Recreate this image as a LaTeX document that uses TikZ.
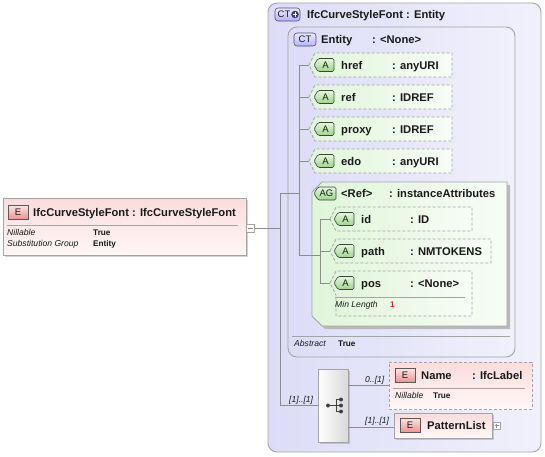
\documentclass[tikz,border=0pt]{standalone}
\usepackage{fontspec}
\setmainfont{Liberation Sans}
\usetikzlibrary{shadows}
\definecolor{ln}{HTML}{8C8C8C}
\definecolor{bd}{HTML}{A4A4A4}
\definecolor{txt}{HTML}{1A1A1A}
\definecolor{ctL}{HTML}{DCDCF7}
\definecolor{ctR}{HTML}{F1F1FC}
\definecolor{grL}{HTML}{E0F5DA}
\definecolor{grR}{HTML}{F7FDF5}
\definecolor{pkT}{HTML}{FBDCDC}
\definecolor{pkB}{HTML}{FFF7F7}
\definecolor{redv}{HTML}{E02020}
\definecolor{gbT}{HTML}{E4F7DE}
\definecolor{gbB}{HTML}{9CD68C}
\definecolor{ebT}{HTML}{FCE2E2}
\definecolor{ebB}{HTML}{EE9090}
\tikzset{
  line/.style={draw=ln, line width=0.8pt},
  ctbox/.style={draw=bd, line width=0.9pt, rounded corners=9pt, left color=ctL, right color=ctR, inner sep=0pt},
  attbox/.style={draw=bd, dash pattern=on 3pt off 2pt, line width=0.8pt, left color=grL, right color=grR},
  agbox/.style={draw=bd, line width=0.8pt, left color=grL, right color=grR},
  elbox/.style={draw=bd, line width=0.8pt, top color=pkT, bottom color=pkB, inner sep=0pt},
  eldash/.style={elbox, dash pattern=on 3pt off 2pt},
  shad/.style={drop shadow={shadow xshift=2pt, shadow yshift=-2pt, opacity=0.35, fill=gray}},
  abadge/.style={draw=black!75, line width=0.6pt, rounded corners=1.5pt, top color=gbT, bottom color=gbB},
  ebadge/.style={draw=black!65, line width=0.6pt, top color=ebT, bottom color=ebB, minimum width=20pt, minimum height=14pt, inner sep=0pt, font=\fontsize{9.5}{11}\selectfont, text=txt},
  ctbadge/.style={draw=blue!30!black!70, line width=0.6pt, rounded corners=3pt, top color=blue!8!white, bottom color=blue!30!white},
  btext/.style={inner sep=0pt, font=\fontsize{9.5}{11}\selectfont, text=txt},
  nm/.style={anchor=base west, inner sep=0pt, font=\bfseries\fontsize{11.2}{13}\selectfont, text=txt},
  sm/.style={anchor=base west, inner sep=0pt, font=\itshape\fontsize{8.6}{10}\selectfont, text=txt},
  sv/.style={anchor=base west, inner sep=0pt, font=\bfseries\fontsize{8.2}{10}\selectfont, text=txt},
  pmbox/.style={draw=bd, fill=white, line width=0.6pt, minimum size=8pt, inner sep=0pt},
}
\newcommand\attbox[5]{%
  \path[attbox] (#2,#3+12) -- (#2+6,#3) -- (#5,#3) -- (#5,#4) -- (#2+6,#4) -- (#2+6,#3+24) -- cycle;
  \coordinate (#1) at (#2,#3+12);}
\newcommand\tagbadge[5]{%
  \path[abadge] (#2-#4,#3) -- (#2-#4+4,#3-6.5) -- (#2+#4,#3-6.5) -- (#2+#4,#3+6.5) -- (#2-#4+4,#3+6.5) -- cycle;
  \node[btext] (#1) at (#2+1.5,#3) {#5};}
\begin{document}
\begin{tikzpicture}[x=1pt,y=-1pt]
\useasboundingbox (0,0) rectangle (545,456);

% ---- left element ----
\node[elbox, shad, minimum width=243pt, minimum height=57pt] (elem) at (124.5,226.5) {};
\node[ebadge] (elemE) at (18,212.5) {E};
\node[nm] (elemN) at (33,216) {IfcCurveStyleFont : IfcCurveStyleFont};
\draw[line, draw=bd] (7,225.5) -- (238,225.5);
\node[sm] (elemNil) at (7,235.5) {Nillable};
\node[sv] (elemNilV) at (93,235.5) {True};
\node[sm] (elemSub) at (7,246) {Substitution Group};
\node[sv] (elemSubV) at (93,246) {Entity};
\node[pmbox] (mb) at (250.5,228) {};
\draw[ln, line width=0.7pt] (248,228) -- (253,228);

% ---- main complex type ----
\node[ctbox, minimum width=273pt, minimum height=449pt] (ct) at (404.5,227.5) {};
\path[ctbadge] (275,8) rectangle (300,21);
\node[btext] (ctB) at (284,14.5) {CT};
\fill[blue!30!black!75] (295,14.5) circle (3.8pt);
\draw[white, line width=1pt] (292.8,14.5) -- (297.2,14.5) (295,12.3) -- (295,16.7);
\node[nm] (ctN) at (307,18.5) {IfcCurveStyleFont : Entity};

\node[ctbox, minimum width=227pt, minimum height=330pt] (ent) at (401.5,192) {};
\path[ctbadge] (294,33) rectangle (316,46);
\node[btext] (entB) at (305,39.5) {CT};
\node[nm] (entN) at (321,43.5) {Entity};
\node[nm] (entT) at (372,43.5) {: <None>};

% attributes
\attbox{hrefP}{309}{53}{77}{452}
\tagbadge{hrefB}{324}{65}{10}{A}
\node[nm] (hrefN) at (341,69) {href};
\node[nm] (hrefT) at (392,69) {: anyURI};

\attbox{refP}{309}{85}{109}{452}
\tagbadge{refB}{324}{97}{10}{A}
\node[nm] (refN) at (341,101) {ref};
\node[nm] (refT) at (392,101) {: IDREF};

\attbox{proxyP}{309}{117}{141}{452}
\tagbadge{proxyB}{324}{129}{10}{A}
\node[nm] (proxyN) at (341,133) {proxy};
\node[nm] (proxyT) at (392,133) {: IDREF};

\attbox{edoP}{309}{149}{173}{452}
\tagbadge{edoB}{324}{161}{10}{A}
\node[nm] (edoN) at (341,165) {edo};
\node[nm] (edoT) at (392,165) {: anyURI};

% attribute group
\fill[gray!55] (315,195) -- (325,185) -- (510,185) -- (510,329) -- (325,329) -- (315,319) -- cycle;
\path[agbox] (312,192) -- (322,182) -- (507,182) -- (507,326) -- (322,326) -- (312,316) -- cycle;
\tagbadge{agB}{325}{193.5}{11}{AG}
\node[nm] (agN) at (341,197.5) {<Ref>};
\node[nm] (agT) at (389,197.5) {: instanceAttributes};

\attbox{idP}{330}{207}{231}{472}
\tagbadge{idB}{344}{219}{10}{A}
\node[nm] (idN) at (361,223) {id};
\node[nm] (idT) at (410,223) {: ID};

\attbox{pathP}{330}{239}{263}{491}
\tagbadge{pathB}{344}{251}{10}{A}
\node[nm] (pathN) at (361,255) {path};
\node[nm] (pathT) at (410,255) {: NMTOKENS};

\attbox{posP}{330}{271}{316}{472}
\tagbadge{posB}{344}{283}{10}{A}
\node[nm] (posN) at (361,287) {pos};
\node[nm] (posT) at (410,287) {: <None>};
\draw[line, draw=bd] (335,297) -- (465,297);
\node[sm] (posMin) at (335,307) {Min Length};
\node[sv, text=redv] (posMinV) at (390,307) {1};

\draw[line, draw=bd] (292,336) -- (510,336);
\node[sm] (absN) at (294,346.5) {Abstract};
\node[sv] (absV) at (338,346.5) {True};

% ---- tree connectors ----
\coordinate (j0) at (280,228);
\coordinate (t0) at (280,193);
\coordinate (b0) at (280,405.5);
\coordinate (t1) at (299,193);
\coordinate (a0) at (299,65);
\coordinate (a1) at (299,97);
\coordinate (a2) at (299,129);
\coordinate (a3) at (299,161);
\coordinate (a5) at (299,255);
\coordinate (g0) at (320,219);
\coordinate (g1) at (320,251);
\coordinate (g2) at (320,283);
\coordinate (g5) at (320,255);
\draw[line] (mb.east) -- (j0);
\draw[line] (t0) -- (b0);
\draw[line] (t0) -- (t1);
\draw[line] (a0) -- (a5);
\draw[line] (a0) -- (hrefP);
\draw[line] (a1) -- (refP);
\draw[line] (a2) -- (proxyP);
\draw[line] (a3) -- (edoP);
\draw[line] (a5) -- (g5);
\draw[line] (g0) -- (g2);
\draw[line] (g0) -- (idP);
\draw[line] (g1) -- (pathP);
\draw[line] (g2) -- (posP);

% ---- sequence ----
\node[draw=bd, line width=0.8pt, left color=white, right color=black!15, shad, minimum width=30pt, minimum height=73pt, inner sep=0pt] (seq) at (333,405.5) {};
\draw[black!75, line width=0.8pt] (328,405.5) -- (336,405.5) (336,399.5) -- (336,411.5) (336,399.5) -- (341,399.5) (336,411.5) -- (341,411.5) (336,405.5) -- (341,405.5);
\fill[black!75] (328,405.5) circle (2pt) (341,399.5) circle (2pt) (341,405.5) circle (2pt) (341,411.5) circle (2pt);
\draw[line] (b0) -- (seq.west);
\node[sm] (seqL) at (289,402) {[1]..[1]};

% Name element
\node[eldash, minimum width=143pt, minimum height=47pt] (nameE) at (460.5,385.5) {};
\node[ebadge] (nameB) at (405,375.5) {E};
\node[nm] (nameN) at (421,379.5) {Name};
\node[nm] (nameT) at (472,379.5) {: IfcLabel};
\draw[line, draw=bd] (393,388.5) -- (525,388.5);
\node[sm] (nameNil) at (395,398) {Nillable};
\node[sv] (nameNilV) at (433,398) {True};

% PatternList element
\node[elbox, shad, minimum width=98pt, minimum height=25pt] (patE) at (443,425.5) {};
\node[ebadge] (patB) at (410,425.5) {E};
\node[nm] (patN) at (427,429.5) {PatternList};
\node[pmbox, minimum size=7pt] (pb) at (496.5,425.5) {};
\draw[ln, line width=0.6pt] (494.5,425.5) -- (498.5,425.5) (496.5,423.5) -- (496.5,427.5);

\coordinate (s1) at (348,385);
\coordinate (s2) at (348,427);
\draw[line] (s1) -- (s1 -| nameE.west);
\draw[line] (s2) -- (s2 -| patE.west);
\node[sm] (l1) at (365,382) {0..[1]};
\node[sm] (l2) at (365,423.5) {[1]..[1]};
\end{tikzpicture}
\end{document}
